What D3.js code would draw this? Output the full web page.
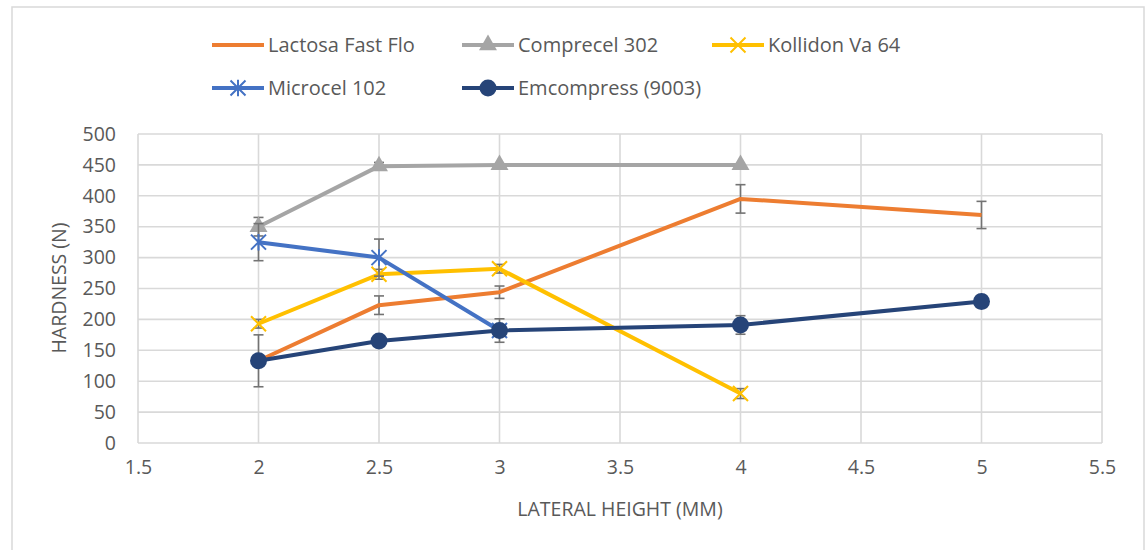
<!DOCTYPE html>
<html><head><meta charset="utf-8">
<script src="https://cdn.jsdelivr.net/npm/d3@7"></script>
<style>body{margin:0;background:#fff}svg{display:block}</style>
</head><body>
<svg id="c" width="1147" height="550"></svg>
<script>
const xTicks = [1.5,2,2.5,3,3.5,4,4.5,5,5.5];
const yTicks = [0,50,100,150,200,250,300,350,400,450,500];

const lactosaX = [2,2.5,3,4,5];
const lactosaY = [133,223,244,395,369];
const lactosaErr = [42,15,10,23,22];

const comprecelX = [2,2.5,3,4];
const comprecelY = [350,448,450,450];
const comprecelErr = [15,6,0,0];

const kollidonX = [2,2.5,3,4];
const kollidonY = [193,273,282,80];
const kollidonErr = [7,8,7,8];

const microcelX = [2,2.5,3];
const microcelY = [325,300,182];
const microcelErr = [30,30,19];

const emcompressX = [2,2.5,3,4,5];
const emcompressY = [133,165,182,191,229];
const emcompressErr = [0,0,0,15,10];

const series = [
  {name:"Lactosa Fast Flo", xs:lactosaX, ys:lactosaY, err:lactosaErr, color:"#ED7D31", marker:"none"},
  {name:"Comprecel 302", xs:comprecelX, ys:comprecelY, err:comprecelErr, color:"#A5A5A5", marker:"triangle"},
  {name:"Kollidon Va 64", xs:kollidonX, ys:kollidonY, err:kollidonErr, color:"#FFC000", marker:"x"},
  {name:"Microcel 102", xs:microcelX, ys:microcelY, err:microcelErr, color:"#4472C4", marker:"star"},
  {name:"Emcompress (9003)", xs:emcompressX, ys:emcompressY, err:emcompressErr, color:"#264478", marker:"circle"}
];

const svg = d3.select("#c");
const font = "'Open Sans', 'Liberation Sans', sans-serif";
const txt = "#595959";
const L=138, R=1102, T=134, B=443;
const x = d3.scaleLinear().domain([1.5,5.5]).range([L,R]);
const y = d3.scaleLinear().domain([0,500]).range([B,T]);

// outer border
svg.append("rect").attr("x",12).attr("y",7).attr("width",1132).attr("height",560)
  .attr("fill","none").attr("stroke","#d9d9d9").attr("stroke-width",1.5);

// gridlines
const g = svg.append("g");
g.selectAll(".h").data(yTicks).join("line")
  .attr("x1",L).attr("x2",R).attr("y1",d=>y(d)).attr("y2",d=>y(d))
  .attr("stroke","#d9d9d9").attr("stroke-width",1.6);
g.selectAll(".v").data(xTicks).join("line")
  .attr("y1",T).attr("y2",B).attr("x1",d=>x(d)).attr("x2",d=>x(d))
  .attr("stroke","#d9d9d9").attr("stroke-width",1.6);

// axes
const yAxis = d3.axisLeft(y).tickValues(yTicks).tickSize(0).tickPadding(22);
const ya = svg.append("g").attr("transform",`translate(${L},0)`).call(yAxis);
ya.select(".domain").remove();
ya.selectAll("text").attr("font-family",font).attr("font-size",19.5).attr("fill",txt);
const xAxis = d3.axisBottom(x).tickValues(xTicks).tickSize(0).tickPadding(17).tickFormat(d=>String(d));
const xa = svg.append("g").attr("transform",`translate(0,${B})`).call(xAxis);
xa.select(".domain").remove();
xa.selectAll("text").attr("font-family",font).attr("font-size",19.5).attr("fill",txt);

svg.append("text").attr("x",620).attr("y",516).attr("text-anchor","middle")
  .attr("font-family",font).attr("font-size",19.5).attr("fill",txt).text("LATERAL HEIGHT (MM)");
svg.append("text").attr("transform","translate(66,288) rotate(-90)").attr("text-anchor","middle")
  .attr("font-family",font).attr("font-size",19.5).attr("fill",txt).text("HARDNESS (N)");

const line = d3.line().x(d=>x(d[0])).y(d=>y(d[1]));

function drawMarker(sel, type, color, cx, cy){
  if(type==="triangle"){
    sel.append("path").attr("d",d3.symbol(d3.symbolTriangle,140)()).attr("transform",`translate(${cx},${cy})`).attr("fill",color);
  } else if(type==="circle"){
    sel.append("circle").attr("cx",cx).attr("cy",cy).attr("r",8.5).attr("fill",color);
  } else if(type==="x"){
    const s=7.5;
    sel.append("path").attr("d",`M${cx-s},${cy-s}L${cx+s},${cy+s}M${cx-s},${cy+s}L${cx+s},${cy-s}`)
      .attr("stroke",color).attr("stroke-width",2);
  } else if(type==="star"){
    const s=7.5;
    sel.append("path").attr("d",`M${cx-s},${cy-s}L${cx+s},${cy+s}M${cx-s},${cy+s}L${cx+s},${cy-s}M${cx},${cy-s*1.1}L${cx},${cy+s*1.1}`)
      .attr("stroke",color).attr("stroke-width",2);
  }
}

// per series: error bars then line and markers
series.forEach(s=>{
  const gs = svg.append("g");
  s.xs.forEach((xv,i)=>{
    const e=s.err[i]; if(!e) return;
    const cx=x(xv), y1=y(s.ys[i]+e), y2=y(s.ys[i]-e);
    gs.append("line").attr("x1",cx).attr("x2",cx).attr("y1",y1).attr("y2",y2).attr("stroke","#737373").attr("stroke-width",1.6);
    [y1,y2].forEach(yy=>gs.append("line").attr("x1",cx-5).attr("x2",cx+5).attr("y1",yy).attr("y2",yy).attr("stroke","#737373").attr("stroke-width",1.6));
  });
  const pts = s.xs.map((xv,i)=>[xv,s.ys[i]]);
  gs.append("path").attr("d",line(pts)).attr("fill","none").attr("stroke",s.color).attr("stroke-width",4).attr("stroke-linejoin","round");
  pts.forEach(p=>drawMarker(gs,s.marker,s.color,x(p[0]),y(p[1])));
});

// legend
const legPos = [[212,45],[462,45],[712,45],[212,88],[462,88]];
series.forEach((s,i)=>{
  const [lx,ly]=legPos[i];
  const lg=svg.append("g");
  lg.append("line").attr("x1",lx).attr("x2",lx+52).attr("y1",ly).attr("y2",ly).attr("stroke",s.color).attr("stroke-width",4);
  drawMarker(lg,s.marker,s.color,lx+26,ly);
  lg.append("text").attr("x",lx+56).attr("y",ly+7).attr("font-family",font).attr("font-size",20).attr("fill",txt).text(s.name);
});
</script>
</body></html>
